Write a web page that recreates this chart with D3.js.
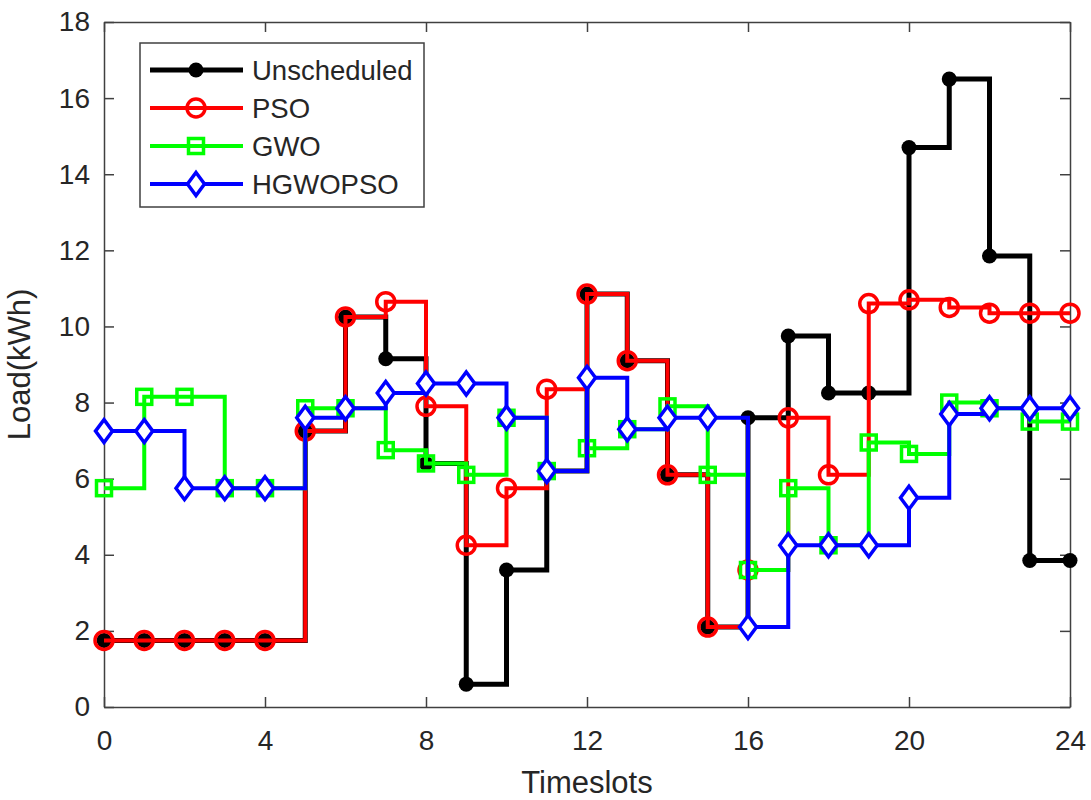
<!DOCTYPE html>
<html>
<head>
<meta charset="utf-8">
<script src="https://cdn.jsdelivr.net/npm/d3@7"></script>
<style>
  body { margin: 0; background: #fff; }
  text { font-family: "Liberation Sans", Arial, sans-serif; fill: #262626; }
</style>
</head>
<body>
<div id="chart"></div>
<script>
// data
var timeslots = d3.range(0, 25);
var unscheduled = [1.75, 1.75, 1.75, 1.75, 1.75, 7.25, 10.25, 9.15, 6.4, 0.6, 3.6, 6.2, 10.85,
                   9.1, 6.1, 2.1, 7.6, 9.75, 8.25, 8.25, 14.7, 16.5, 11.85, 3.85, 3.85];
var pso = [1.75, 1.75, 1.75, 1.75, 1.75, 7.25, 10.25, 10.65, 7.9, 4.25, 5.75, 8.35, 10.85,
           9.1, 6.1, 2.1, 3.6, 7.6, 6.1, 10.6, 10.7, 10.5, 10.35, 10.35, 10.35];
var gwo = [5.75, 8.15, 8.15, 5.75, 5.75, 7.85, 7.85, 6.75, 6.4, 6.1, 7.6, 6.2, 6.8,
           7.3, 7.9, 6.1, 3.6, 5.75, 4.25, 6.95, 6.65, 8.0, 7.85, 7.5, 7.5];
var hgwopso = [7.25, 7.25, 5.75, 5.75, 5.75, 7.6, 7.85, 8.25, 8.5, 8.5, 7.6, 6.2, 8.65,
               7.3, 7.6, 7.6, 2.1, 4.25, 4.25, 4.25, 5.5, 7.7, 7.85, 7.85, 7.85];
var xTicks = [0, 4, 8, 12, 16, 20, 24];
var yTicks = [0, 2, 4, 6, 8, 10, 12, 14, 16, 18];

var series = [
  {name: "Unscheduled", values: unscheduled, color: "#000000", width: 5, marker: "dot"},
  {name: "PSO", values: pso, color: "#ff0000", width: 4, marker: "circle"},
  {name: "GWO", values: gwo, color: "#00ff00", width: 4, marker: "square"},
  {name: "HGWOPSO", values: hgwopso, color: "#0000ff", width: 4, marker: "diamond"}
];

var margin = {top: 22, right: 21, bottom: 93, left: 104},
    width = 1091 - margin.left - margin.right,
    height = 800 - margin.top - margin.bottom;

var svg = d3.select("#chart")
  .append("svg")
    .attr("width", 1091)
    .attr("height", 800)
  .append("g")
    .attr("transform", "translate(" + margin.left + "," + margin.top + ")");

var x = d3.scaleLinear().domain([0, 24]).range([0, width]);
var y = d3.scaleLinear().domain([0, 18]).range([height, 0]);

// box + inward ticks on all sides
svg.append("g")
  .attr("transform", "translate(0," + height + ")")
  .call(d3.axisBottom(x).tickValues(xTicks).tickSizeInner(-10).tickSizeOuter(0).tickPadding(23))
  .call(function(g) { g.selectAll("text").style("font-size", "28px").attr("dy", "0.71em"); });
svg.append("g")
  .call(d3.axisTop(x).tickValues(xTicks).tickSizeInner(-10).tickSizeOuter(0).tickFormat(""));
svg.append("g")
  .call(d3.axisLeft(y).tickValues(yTicks).tickSizeInner(-10).tickSizeOuter(0).tickPadding(14))
  .call(function(g) { g.selectAll("text").style("font-size", "28px"); });
svg.append("g")
  .attr("transform", "translate(" + width + ",0)")
  .call(d3.axisRight(y).tickValues(yTicks).tickSizeInner(-10).tickSizeOuter(0).tickFormat(""));

svg.selectAll(".domain, .tick line").attr("stroke", "#404040").attr("stroke-width", 1.5);

// axis labels
svg.append("text")
  .attr("x", width / 2)
  .attr("y", height + 86)
  .attr("text-anchor", "middle")
  .style("font-size", "31px")
  .text("Timeslots");
svg.append("text")
  .attr("transform", "translate(-74," + (height / 2) + ") rotate(-90)")
  .attr("text-anchor", "middle")
  .style("font-size", "31px")
  .text("Load(kWh)");

var line = d3.line()
  .x(function(d, i) { return x(timeslots[i]); })
  .y(function(d) { return y(d); })
  .curve(d3.curveStepAfter);

function drawMarker(g, type, color) {
  if (type == "dot") {
    g.append("circle").attr("r", 7.5).attr("fill", color);
  } else if (type == "circle") {
    g.append("circle").attr("r", 9).attr("fill", "none").attr("stroke", color).attr("stroke-width", 3.5);
  } else if (type == "square") {
    g.append("rect").attr("x", -7.5).attr("y", -7.5).attr("width", 15).attr("height", 15)
      .attr("fill", "none").attr("stroke", color).attr("stroke-width", 3.5);
  } else {
    g.append("path").attr("d", "M0,-11.5L8.5,0L0,11.5L-8.5,0Z")
      .attr("fill", "#fff").attr("stroke", color).attr("stroke-width", 3.5);
  }
}

series.forEach(function(s) {
  var g = svg.append("g");
  g.append("path")
    .datum(s.values)
    .attr("d", line)
    .attr("fill", "none")
    .attr("stroke", s.color)
    .attr("stroke-width", s.width)
    .attr("stroke-linejoin", "miter");
  g.selectAll("g.mk")
    .data(s.values)
    .enter()
    .append("g")
      .attr("class", "mk")
      .attr("transform", function(d, i) { return "translate(" + x(timeslots[i]) + "," + y(d) + ")"; })
      .each(function() { drawMarker(d3.select(this), s.marker, s.color); });
});

// legend
var legend = svg.append("g").attr("transform", "translate(36,21)");
legend.append("rect")
  .attr("width", 284).attr("height", 164)
  .attr("fill", "#fff").attr("stroke", "#404040").attr("stroke-width", 1.5);
series.forEach(function(s, i) {
  var row = legend.append("g").attr("transform", "translate(0," + (27 + i * 38) + ")");
  row.append("line")
    .attr("x1", 10).attr("x2", 103)
    .attr("stroke", s.color).attr("stroke-width", s.width);
  var m = row.append("g").attr("transform", "translate(56,0)");
  drawMarker(m, s.marker, s.color);
  row.append("text")
    .attr("x", 112)
    .attr("dy", "0.36em")
    .style("font-size", "27.5px")
    .text(s.name);
});
</script>
</body>
</html>
